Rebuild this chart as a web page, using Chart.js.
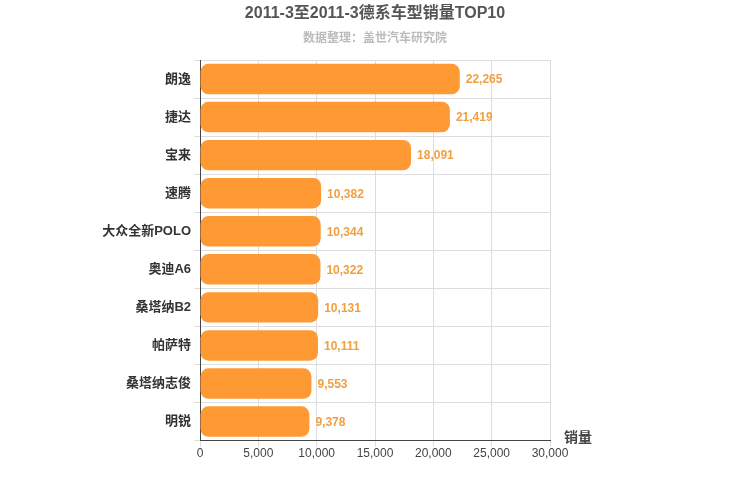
<!DOCTYPE html>
<html><head><meta charset="utf-8">
<script src="https://cdn.jsdelivr.net/npm/chart.js@4/dist/chart.umd.min.js"></script>
<style>body{margin:0;background:#fff}#w{width:750px;height:500px}</style>
</head><body><div id="w"><canvas id="c"></canvas></div>
<script>
const categories=["朗逸","捷达","宝来","速腾","大众全新POLO","奥迪A6","桑塔纳B2","帕萨特","桑塔纳志俊","明锐"];
const sales=[22265,21419,18091,10382,10344,10322,10131,10111,9553,9378];
const xTicks=[0,5000,10000,15000,20000,25000,30000];
const F="'Liberation Sans','Noto Sans CJK SC', sans-serif";
const extra={id:'extra',afterDatasetsDraw(ch){
 const ctx=ch.ctx;ctx.save();
 const m=ch.getDatasetMeta(0);
 ctx.font="bold 12px "+F;ctx.fillStyle="#F0A040";ctx.textBaseline="middle";ctx.textAlign="left";
 m.data.forEach((b,i)=>ctx.fillText(sales[i].toLocaleString('en-US'),b.x+6,b.y+1));
 const xs=ch.scales.x;
 ctx.font="bold 14px "+F;ctx.fillStyle="#444";
 ctx.fillText("销量",xs.right+14,xs.top-2);
 ctx.textAlign="center";
 ctx.font="bold 16px "+F;ctx.fillStyle="#555";ctx.fillText("2011-3至2011-3德系车型销量TOP10",375,14);
 ctx.font="bold 12px "+F;ctx.fillStyle="#bbb";ctx.fillText("数据整理：盖世汽车研究院",375,39);
 ctx.restore();}};
new Chart(document.getElementById('c'),{type:'bar',
 data:{labels:categories,datasets:[{data:sales,backgroundColor:'#FF9933',borderRadius:8,borderSkipped:false,barPercentage:0.8,categoryPercentage:1}]},
 options:{indexAxis:'y',responsive:true,maintainAspectRatio:false,animation:false,
  layout:{padding:{left:0,right:200,top:60,bottom:39}},
  plugins:{legend:{display:false},tooltip:{enabled:false}},
  scales:{x:{min:0,max:30000,afterBuildTicks(s){s.ticks=xTicks.map(v=>({value:v}));},
    ticks:{font:{size:12,family:F},color:'#444',padding:0,callback:v=>v.toLocaleString('en-US')},
    grid:{color:'#ddd',tickLength:6},border:{color:'#444'}},
   y:{afterFit(s){s.width=200;},ticks:{font:{size:13,weight:'bold',family:F},color:'#333'},
    grid:{color:'#ddd',offset:true,tickLength:6},border:{color:'#444'}}}},
 plugins:[extra]});
</script></body></html>
